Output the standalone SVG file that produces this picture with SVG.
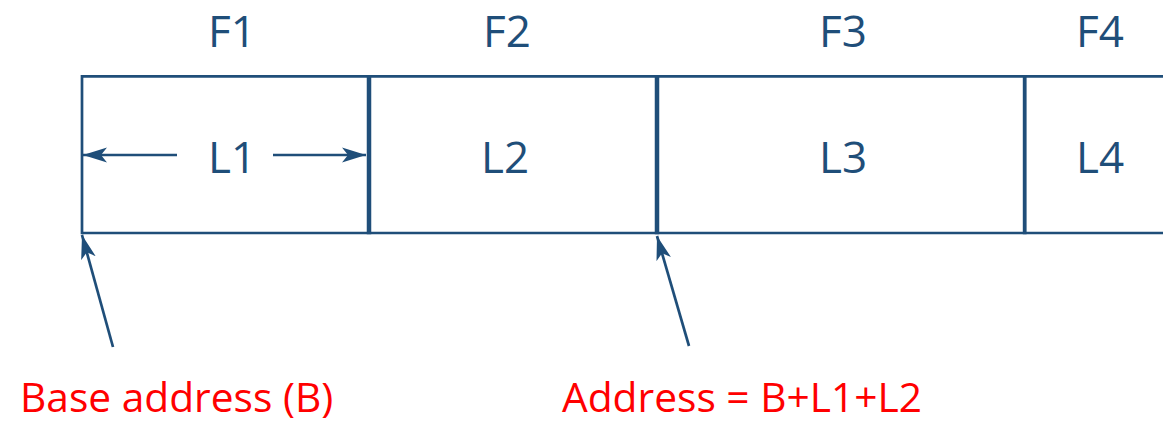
<svg xmlns="http://www.w3.org/2000/svg" width="1163" height="422" viewBox="0 0 1163 422">
  <defs>
    <marker id="ah" viewBox="0 0 24 16" refX="24" refY="8" markerWidth="24" markerHeight="16" markerUnits="userSpaceOnUse" orient="auto">
      <path d="M24,8 L0,0.5 L6,8 L0,15.5 Z" fill="#1f4e79"/>
    </marker>
  </defs>
  <style>
    .ln { stroke: #1f4e79; fill: none; }
    .lbl { font-family: "Open Sans", "Liberation Sans", sans-serif; font-size: 44px; fill: #1f4e79; text-anchor: middle; }
    .red { font-family: "Open Sans", "Liberation Sans", sans-serif; font-size: 40.7px; fill: #ff0000; }
    .arr { stroke: #1f4e79; stroke-width: 2.7; fill: none; marker-end: url(#ah); }
  </style>
  <rect width="1163" height="422" fill="#ffffff"/>
  <g id="frame">
    <line class="ln" x1="82" y1="76.3" x2="1163" y2="76.3" stroke-width="2.7"/>
    <line class="ln" x1="82" y1="233" x2="1163" y2="233" stroke-width="2.7"/>
    <line class="ln" x1="82" y1="75" x2="82" y2="234.3" stroke-width="2.7"/>
  </g>
  <g id="field1">
    <text class="lbl" x="232" y="47">F1</text>
    <text class="lbl" x="232" y="173">L1</text>
  </g>
  <g id="field2">
    <line class="ln" x1="369" y1="75" x2="369" y2="234.3" stroke-width="4.5"/>
    <text class="lbl" x="507" y="47">F2</text>
    <text class="lbl" x="505" y="173">L2</text>
  </g>
  <g id="field3">
    <line class="ln" x1="657" y1="75" x2="657" y2="234.3" stroke-width="4.5"/>
    <text class="lbl" x="843" y="47">F3</text>
    <text class="lbl" x="843" y="173">L3</text>
  </g>
  <g id="field4">
    <line class="ln" x1="1024.7" y1="75" x2="1024.7" y2="234.3" stroke-width="3.8"/>
    <text class="lbl" x="1100" y="47">F4</text>
    <text class="lbl" x="1100" y="173">L4</text>
  </g>
  <g id="base-label">
    <text class="red" x="20" y="412">Base address (B)</text>
  </g>
  <g id="address-label">
    <text class="red" x="562" y="412">Address = B+L1+L2</text>
  </g>
  <g id="connectors">
    <line class="arr" x1="177" y1="155" x2="83" y2="155"/>
    <line class="arr" x1="273" y1="155" x2="366" y2="155"/>
    <line class="arr" x1="113" y1="347" x2="82" y2="235"/>
    <line class="arr" x1="689" y1="346" x2="657" y2="236"/>
  </g>
</svg>
